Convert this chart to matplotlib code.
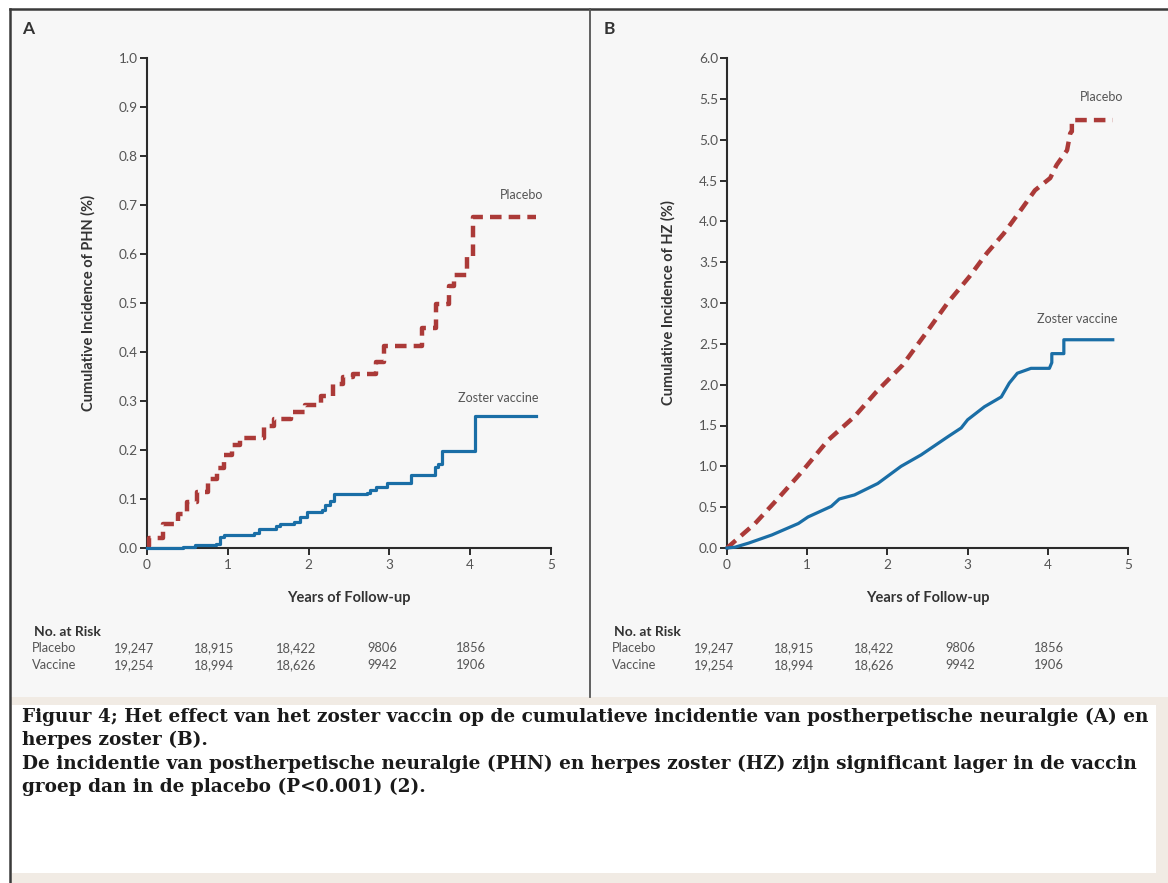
import matplotlib
matplotlib.use("Agg")
import matplotlib.pyplot as plt
from matplotlib.patches import Rectangle
from matplotlib.lines import Line2D
import matplotlib.transforms as mtransforms

# ---------------- data ----------------
# Panel A: cumulative incidence of PHN (%), step curves (time in years)
a_placebo_t = [0, 0.03, 0.20, 0.38, 0.50, 0.62, 0.75, 0.87, 0.95, 1.05, 1.15, 1.45, 1.57,
               1.78, 1.95, 2.15, 2.30, 2.42, 2.55, 2.83, 2.93, 3.40, 3.58, 3.74, 3.80,
               3.96, 4.04, 4.82]
a_placebo_v = [0.005, 0.02, 0.05, 0.07, 0.093, 0.115, 0.14, 0.163, 0.19, 0.21, 0.224, 0.248,
               0.263, 0.278, 0.292, 0.31, 0.335, 0.350, 0.356, 0.38, 0.412, 0.449, 0.497,
               0.534, 0.558, 0.596, 0.675, 0.675]
a_vaccine_t = [0, 0.45, 0.60, 0.86, 0.90, 0.95, 1.32, 1.38, 1.60, 1.65, 1.82, 1.89, 1.98,
               2.16, 2.20, 2.26, 2.31, 2.72, 2.76, 2.84, 2.97, 3.27, 3.56, 3.60, 3.65, 4.06, 4.82]
a_vaccine_v = [0, 0.003, 0.006, 0.009, 0.023, 0.027, 0.03, 0.038, 0.044, 0.05, 0.054, 0.064,
               0.074, 0.078, 0.088, 0.095, 0.11, 0.112, 0.118, 0.125, 0.132, 0.149, 0.165,
               0.172, 0.197, 0.27, 0.27]

# Panel B: cumulative incidence of HZ (%)
b_placebo_t = [0, 0.35, 0.64, 0.93, 1.26, 1.59, 1.86, 2.19, 2.48, 2.75, 3.02, 3.24, 3.45,
               3.68, 3.84, 4.03, 4.11, 4.24, 4.28, 4.30, 4.30, 4.81]
b_placebo_v = [0, 0.30, 0.61, 0.93, 1.32, 1.61, 1.91, 2.24, 2.63, 3.00, 3.32, 3.61, 3.85,
               4.16, 4.38, 4.53, 4.69, 4.87, 5.08, 5.10, 5.24, 5.24]
b_vaccine_t = [0, 0.10, 0.27, 0.56, 0.89, 1.01, 1.30, 1.40, 1.59, 1.88, 2.17, 2.42, 2.75,
               2.92, 3.00, 3.21, 3.42, 3.52, 3.62, 3.79, 4.02, 4.05, 4.05, 4.20, 4.20, 4.81]
b_vaccine_v = [0, 0.01, 0.06, 0.16, 0.30, 0.38, 0.51, 0.60, 0.65, 0.79, 1.00, 1.14, 1.36,
               1.47, 1.57, 1.73, 1.85, 2.02, 2.14, 2.20, 2.20, 2.27, 2.38, 2.38, 2.55, 2.55]

x_ticks = [0, 1, 2, 3, 4, 5]
a_yticks = [0.0, 0.1, 0.2, 0.3, 0.4, 0.5, 0.6, 0.7, 0.8, 0.9, 1.0]
b_yticks = [0.0, 0.5, 1.0, 1.5, 2.0, 2.5, 3.0, 3.5, 4.0, 4.5, 5.0, 5.5, 6.0]

risk_groups = ["Placebo", "Vaccine"]
risk_placebo = ["19,247", "18,915", "18,422", "9806", "1856"]
risk_vaccine = ["19,254", "18,994", "18,626", "9942", "1906"]

caption_lines = [
    "Figuur 4; Het effect van het zoster vaccin op de cumulatieve incidentie van postherpetische neuralgie (A) en",
    "herpes zoster (B).",
    "De incidentie van postherpetische neuralgie (PHN) en herpes zoster (HZ) zijn significant lager in de vaccin",
    "groep dan in de placebo (P<0.001) (2).",
]

# ---------------- style ----------------
W, H = 1168, 883
RED = "#ab3a38"
BLUE = "#1a6ea6"
AXC = "#2b2b2b"
TXT = "#555555"
SANS = ["Lato", "DejaVu Sans"]

fig = plt.figure(figsize=(W / 100, H / 100), dpi=100)
fig.patch.set_facecolor("white")


def fx(px):
    return px / W


def fy(py):
    return 1 - py / H


# backgrounds
fig.add_artist(Rectangle((fx(10), fy(697)), fx(1168 - 10), fy(9) - fy(697),
                         transform=fig.transFigure, facecolor="#f7f7f7", edgecolor="none", zorder=0))
fig.add_artist(Rectangle((fx(10), 0), fx(1168 - 10), fy(697),
                         transform=fig.transFigure, facecolor="#f1ebe4", edgecolor="none", zorder=0))
fig.add_artist(Rectangle((fx(12), fy(873)), fx(1156 - 12), fy(705) - fy(873),
                         transform=fig.transFigure, facecolor="white", edgecolor="none", zorder=0))
# frame lines
fig.add_artist(Line2D([fx(10), 1], [fy(9), fy(9)], transform=fig.transFigure, color="#3a3a3a", lw=1.8))
fig.add_artist(Line2D([fx(10), fx(10)], [fy(9), 0], transform=fig.transFigure, color="#3a3a3a", lw=1.8))
fig.add_artist(Line2D([fx(590), fx(590)], [fy(9), fy(697)], transform=fig.transFigure, color="#555555", lw=1.3))


def make_axes(x0, x1, y0, y1):
    ax = fig.add_axes([fx(x0), fy(y1), fx(x1 - x0), fy(y0) - fy(y1)])
    ax.set_facecolor("none")
    for s in ("top", "right"):
        ax.spines[s].set_visible(False)
    for s in ("left", "bottom"):
        ax.spines[s].set_color(AXC)
        ax.spines[s].set_linewidth(1.5)
    ax.tick_params(direction="out", length=5, width=1.4, color=AXC, labelcolor=TXT,
                   labelsize=9.8, pad=1.5)
    return ax


def style_ticks(ax):
    for lab in ax.get_xticklabels() + ax.get_yticklabels():
        lab.set_fontfamily(SANS)
    ax.tick_params(axis="x", pad=3)


panels = [
    dict(x0=147, x1=551, letter="A", lx=22, ylabel="Cumulative Incidence of PHN (%)",
         yticks=a_yticks, fmt="{:.1f}", pt=a_placebo_t, pv=a_placebo_v, vt=a_vaccine_t,
         vv=a_vaccine_v, steps=True, plab=(522, 195), vlab=(498, 398), rx=32, lp=17),
    dict(x0=727, x1=1128, letter="B", lx=604, ylabel="Cumulative Incidence of HZ (%)",
         yticks=b_yticks, fmt="{:.1f}", pt=b_placebo_t, pv=b_placebo_v, vt=b_vaccine_t,
         vv=b_vaccine_v, steps=False, plab=(1102, 97), vlab=(1077, 319), rx=612, lp=17),
]

risk_offsets = [-0.16, 0.83, 1.84, 2.91, 4.01]

for p in panels:
    ax = make_axes(p["x0"], p["x1"], 58, 548)
    ax.set_xlim(0, 5)
    ax.set_ylim(p["yticks"][0], p["yticks"][-1])
    ax.set_xticks(x_ticks)
    ax.set_xticklabels([str(t) for t in x_ticks])
    ax.set_yticks(p["yticks"])
    ax.set_yticklabels([p["fmt"].format(t) for t in p["yticks"]])
    style_ticks(ax)

    ds = "steps-post" if p["steps"] else "default"
    ax.plot(p["pt"], p["pv"], color=RED, lw=3.2, drawstyle=ds, dashes=(2.6, 1.6),
            solid_capstyle="butt", dash_capstyle="butt", clip_on=False, zorder=3)
    ax.plot(p["vt"], p["vv"], color=BLUE, lw=2.3, drawstyle=ds, clip_on=False, zorder=4)

    ax.set_xlabel("Years of Follow-up", fontsize=10.5, fontweight="bold", color="#333333",
                  family=SANS, labelpad=14)
    ax.set_ylabel(p["ylabel"], fontsize=10.5, fontweight="bold", color="#333333",
                  family=SANS, labelpad=p["lp"])

    fig.text(fx(p["lx"]), fy(29), p["letter"], fontsize=12.5, fontweight="bold",
             color="#333333", family=SANS, va="center", ha="left")
    fig.text(fx(p["plab"][0]), fy(p["plab"][1]), "Placebo", fontsize=9, color=TXT,
             family=SANS, ha="center", va="center")
    fig.text(fx(p["vlab"][0]), fy(p["vlab"][1]), "Zoster vaccine", fontsize=9, color=TXT,
             family=SANS, ha="center", va="center")

    # number at risk table
    fig.text(fx(p["rx"] + 2), fy(632), "No. at Risk", fontsize=10, fontweight="bold",
             color="#333333", family=SANS, ha="left", va="center")
    trans = mtransforms.blended_transform_factory(ax.transData, fig.transFigure)
    for row_y, grp, vals in [(648, risk_groups[0], risk_placebo), (665, risk_groups[1], risk_vaccine)]:
        fig.text(fx(p["rx"]), fy(row_y), grp, fontsize=9.3, color=TXT, family=SANS,
                 ha="left", va="center")
        for xo, s in zip(risk_offsets, vals):
            ax.text(xo, fy(row_y), s, transform=trans, fontsize=9.3, color=TXT, family=SANS,
                    ha="center", va="center", clip_on=False)

# caption
cap_y = [717, 740, 764, 787]
for yy, line in zip(cap_y, caption_lines):
    fig.text(fx(22), fy(yy), line, fontsize=13.3, fontweight="bold", color="#1a1a1a",
             family=["DejaVu Serif"], ha="left", va="center")

fig.savefig("out.png", dpi=100, facecolor=fig.get_facecolor())
